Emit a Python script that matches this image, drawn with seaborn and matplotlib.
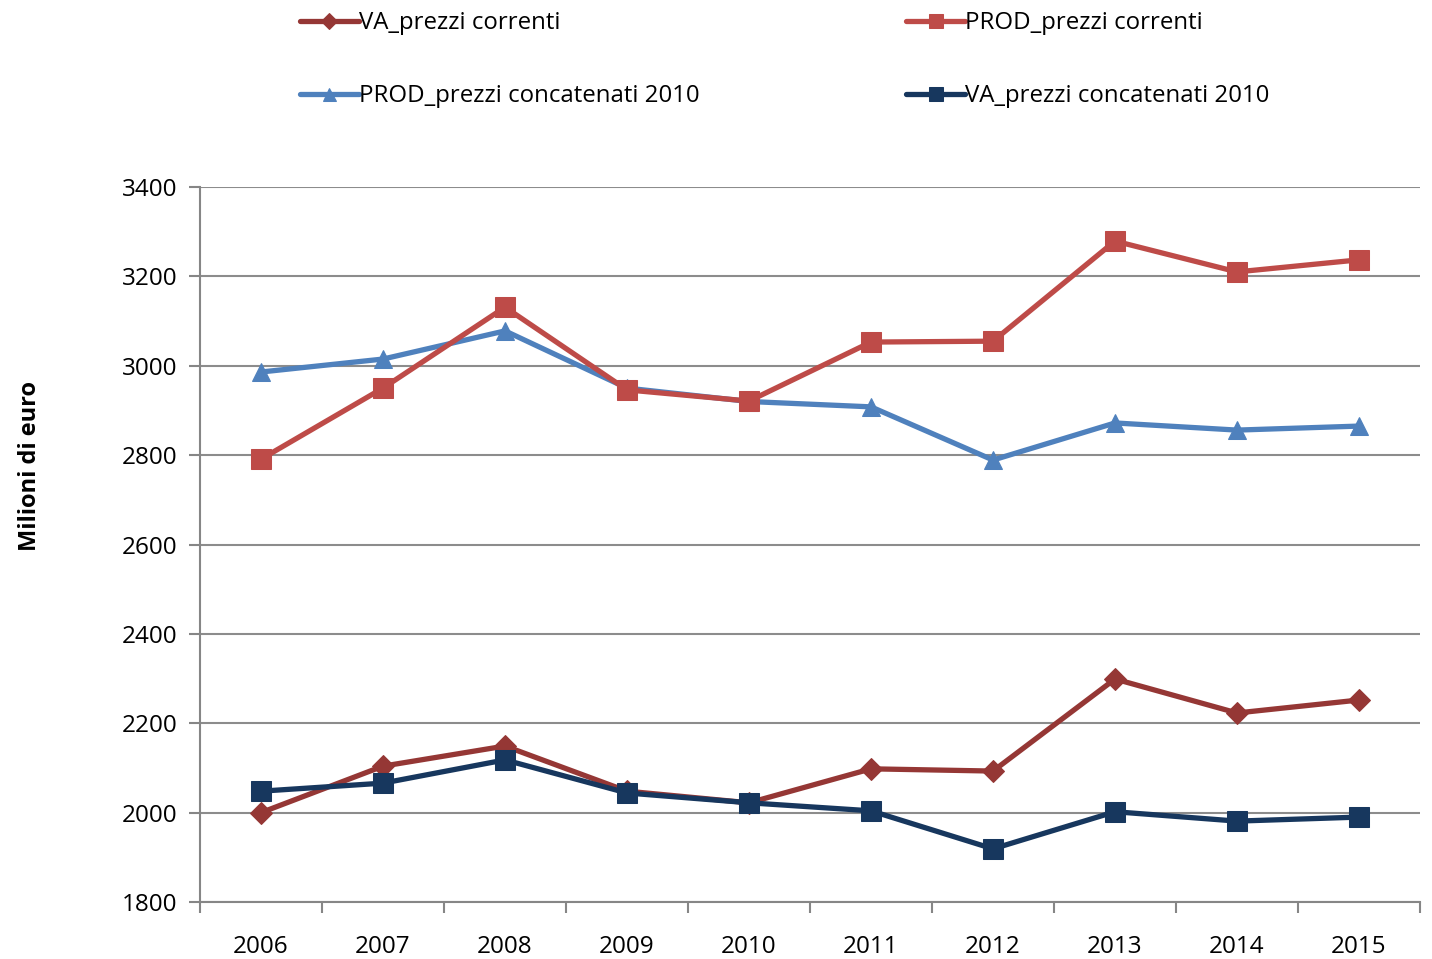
import numpy as np
import pandas as pd
import matplotlib.pyplot as plt
import seaborn as sns

anni = ["2006", "2007", "2008", "2009", "2010", "2011", "2012", "2013", "2014", "2015"]
va_correnti = [2000, 2104, 2149, 2048, 2022, 2098, 2093, 2299, 2223, 2252]
prod_correnti = [2791, 2950, 3131, 2946, 2921, 3053, 3055, 3279, 3210, 3237]
prod_concatenati = [2986, 3015, 3078, 2950, 2920, 2908, 2789, 2872, 2856, 2865]
va_concatenati = [2048, 2066, 2118, 2044, 2022, 2004, 1919, 2002, 1981, 1990]

sns.set_style("white")
plt.rcParams['font.family'] = ['Open Sans', 'DejaVu Sans']
plt.rcParams['text.color'] = 'black'
plt.rcParams['axes.labelcolor'] = 'black'
plt.rcParams['xtick.color'] = 'black'
plt.rcParams['ytick.color'] = 'black'

fig = plt.figure(figsize=(14.32, 9.59), dpi=100)
ax = fig.add_axes([200/1432, 1 - 902/959, 1220/1432, 715/959])

# series: label, values, colour, marker, marker size
serie = [
    ("VA_prezzi correnti", va_correnti, "#953735", "D", 11),
    ("PROD_prezzi concatenati 2010", prod_concatenati, "#4F81BD", "^", 13),
    ("PROD_prezzi correnti", prod_correnti, "#BE4B48", "s", 14),
    ("VA_prezzi concatenati 2010", va_concatenati, "#17375E", "s", 14),
]

# draw order: keep dark lines on top like the original
for lab, vals, col, mk, ms in [serie[1], serie[2], serie[0], serie[3]]:
    df = pd.DataFrame({"anno": anni, "valore": vals})
    sns.lineplot(data=df, x="anno", y="valore", ax=ax, color=col, marker=mk,
                 markersize=ms, markeredgecolor=col, linewidth=3.8, label=lab,
                 sort=False)

ax.set_xlim(-0.5, len(anni) - 0.5)
ax.set_ylim(1800, 3400)
ax.set_yticks(np.arange(1800, 3401, 200))
ax.set_xticks(range(len(anni)))
ax.set_xticklabels(anni)
ax.set_xticks(np.arange(-0.5, len(anni), 1), minor=True)
ax.tick_params(axis="x", which="major", bottom=True, length=0, pad=24, labelsize=17.5)
ax.tick_params(axis="x", which="minor", bottom=True, length=8, width=1.5,
               color="#868686", direction="out")
ax.tick_params(axis="y", left=True, length=8, width=1.5, color="#868686",
               labelcolor="black", direction="out", labelsize=17.5, pad=8)
ax.yaxis.grid(True, color="#8C8C8C", linewidth=1.5)
ax.xaxis.grid(False)
for s in ["top", "right"]:
    ax.spines[s].set_visible(False)
for s in ["left", "bottom"]:
    ax.spines[s].set_color("#868686")
    ax.spines[s].set_linewidth(1.5)

ax.set_xlabel("")
ax.set_ylabel("")
fig.text(30/1432, 1 - 466/959, "Milioni di euro", rotation=90, fontsize=17,
         fontweight="bold", ha="center", va="center")

handles, labels = ax.get_legend_handles_labels()
order = [labels.index(s[0]) for s in serie]
ax.get_legend().remove()
fig.legend([handles[i] for i in order], [labels[i] for i in order],
           loc="upper left", bbox_to_anchor=(288/1432, 1 + 1/959), ncol=2,
           frameon=False, fontsize=17.3, handlelength=2.45, handletextpad=0.0,
           labelspacing=2.05, columnspacing=8.6, borderpad=0, markerscale=0.72)

fig.savefig("out.png", dpi=100)
